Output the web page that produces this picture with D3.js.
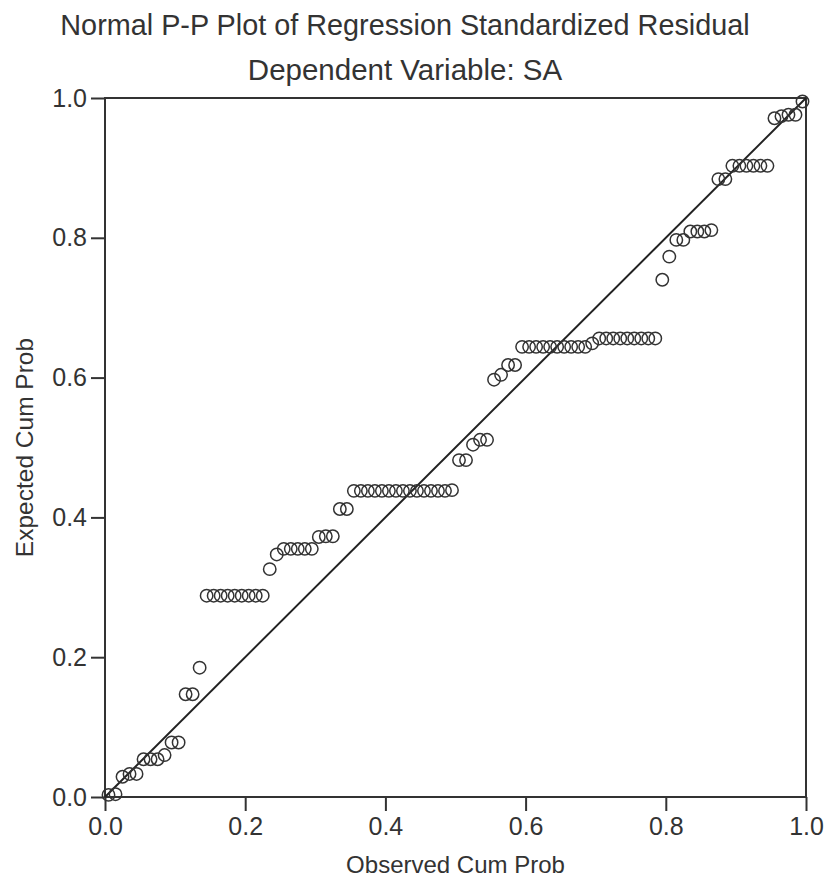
<!DOCTYPE html>
<html>
<head>
<meta charset="utf-8">
<script src="https://cdn.jsdelivr.net/npm/d3@7"></script>
<style>
  body { margin: 0; background: #fff; }
  text { font-family: "Liberation Sans", Arial, sans-serif; fill: #333; }
</style>
</head>
<body>
<div id="chart"></div>
<script>
// observed cumulative probability (x) and expected cumulative probability (y)
var observed = [
    0.005, 0.015, 0.025, 0.035, 0.045, 0.055, 0.065, 0.075, 0.085, 0.095,
    0.105, 0.115, 0.125, 0.135, 0.145, 0.155, 0.165, 0.175, 0.185, 0.195,
    0.205, 0.215, 0.225, 0.235, 0.245, 0.255, 0.265, 0.275, 0.285, 0.295,
    0.305, 0.315, 0.325, 0.335, 0.345, 0.355, 0.365, 0.375, 0.385, 0.395,
    0.405, 0.415, 0.425, 0.435, 0.445, 0.455, 0.465, 0.475, 0.485, 0.495,
    0.505, 0.515, 0.525, 0.535, 0.545, 0.555, 0.565, 0.575, 0.585, 0.595,
    0.605, 0.615, 0.625, 0.635, 0.645, 0.655, 0.665, 0.675, 0.685, 0.695,
    0.705, 0.715, 0.725, 0.735, 0.745, 0.755, 0.765, 0.775, 0.785, 0.795,
    0.805, 0.815, 0.825, 0.835, 0.845, 0.855, 0.865, 0.875, 0.885, 0.895,
    0.905, 0.915, 0.925, 0.935, 0.945, 0.955, 0.965, 0.975, 0.985, 0.995
];
var expected = [
    0.003, 0.004, 0.029, 0.033, 0.033, 0.054, 0.054, 0.054, 0.060, 0.078,
    0.078, 0.147, 0.147, 0.185, 0.288, 0.288, 0.288, 0.288, 0.288, 0.288,
    0.288, 0.288, 0.288, 0.326, 0.347, 0.355, 0.355, 0.355, 0.355, 0.355,
    0.372, 0.373, 0.373, 0.412, 0.412, 0.438, 0.438, 0.438, 0.438, 0.438,
    0.438, 0.438, 0.438, 0.438, 0.438, 0.438, 0.438, 0.438, 0.438, 0.439,
    0.482, 0.482, 0.504, 0.511, 0.511, 0.597, 0.604, 0.618, 0.618, 0.644,
    0.644, 0.644, 0.644, 0.644, 0.644, 0.644, 0.644, 0.644, 0.644, 0.649,
    0.656, 0.656, 0.656, 0.656, 0.656, 0.656, 0.656, 0.656, 0.656, 0.740,
    0.773, 0.797, 0.797, 0.809, 0.809, 0.809, 0.811, 0.884, 0.884, 0.903,
    0.903, 0.903, 0.903, 0.903, 0.903, 0.971, 0.974, 0.976, 0.976, 0.995
];
var tickValues = [0.0, 0.2, 0.4, 0.6, 0.8, 1.0];
var title = "Normal P-P Plot of Regression Standardized Residual";
var subtitle = "Dependent Variable: SA";
var xLabel = "Observed Cum Prob";
var yLabel = "Expected Cum Prob";

var width = 825,
    height = 884;
var margin = {left: 105, top: 98, right: 19, bottom: 87};
var plotW = width - margin.left - margin.right,
    plotH = height - margin.top - margin.bottom;

var svg = d3.select("#chart").append("svg")
    .attr("width", width)
    .attr("height", height);

var x = d3.scaleLinear().domain([0, 1]).range([0, plotW]);
var y = d3.scaleLinear().domain([0, 1]).range([plotH, 0]);

var g = svg.append("g")
    .attr("transform", "translate(" + margin.left + "," + margin.top + ")");

// axes
var xAxis = g.append("g")
    .attr("transform", "translate(0," + plotH + ")")
    .call(d3.axisBottom(x).tickValues(tickValues).tickFormat(d3.format(".1f"))
        .tickSize(14).tickSizeOuter(0).tickPadding(6));
var yAxis = g.append("g")
    .call(d3.axisLeft(y).tickValues(tickValues).tickFormat(d3.format(".1f"))
        .tickSize(14).tickSizeOuter(0).tickPadding(4));

[xAxis, yAxis].forEach(function (a) {
    a.select(".domain").remove();
    a.selectAll(".tick line").attr("stroke", "#333").attr("stroke-width", 2);
    a.selectAll(".tick text")
        .style("font-family", '"Liberation Sans", Arial, sans-serif')
        .style("font-size", "25px")
        .attr("fill", "#333");
});

// frame
g.append("rect")
    .attr("x", 0).attr("y", 0)
    .attr("width", plotW).attr("height", plotH)
    .attr("fill", "none")
    .attr("stroke", "#333")
    .attr("stroke-width", 2);

// reference line
g.append("line")
    .attr("x1", x(0)).attr("y1", y(0))
    .attr("x2", x(1)).attr("y2", y(1))
    .attr("stroke", "#222")
    .attr("stroke-width", 2);

// points
g.append("g")
    .selectAll(".mark")
    .data(observed)
    .enter().append("circle")
    .attr("class", "mark")
    .attr("cx", function (d) { return x(d); })
    .attr("cy", function (d, i) { return y(expected[i]); })
    .attr("r", 6.2)
    .attr("fill", "none")
    .attr("stroke", "#333")
    .attr("stroke-width", 1.5);

// titles
svg.append("text")
    .attr("x", 405).attr("y", 35)
    .attr("text-anchor", "middle")
    .style("font-size", "28.8px")
    .text(title);
svg.append("text")
    .attr("x", 405).attr("y", 80)
    .attr("text-anchor", "middle")
    .style("font-size", "29.5px")
    .text(subtitle);

svg.append("text")
    .attr("x", margin.left + plotW / 2).attr("y", 873)
    .attr("text-anchor", "middle")
    .style("font-size", "24px")
    .text(xLabel);
svg.append("text")
    .attr("transform", "translate(33," + (margin.top + plotH / 2) + ")rotate(-90)")
    .attr("text-anchor", "middle")
    .style("font-size", "24.5px")
    .text(yLabel);
</script>
</body>
</html>
